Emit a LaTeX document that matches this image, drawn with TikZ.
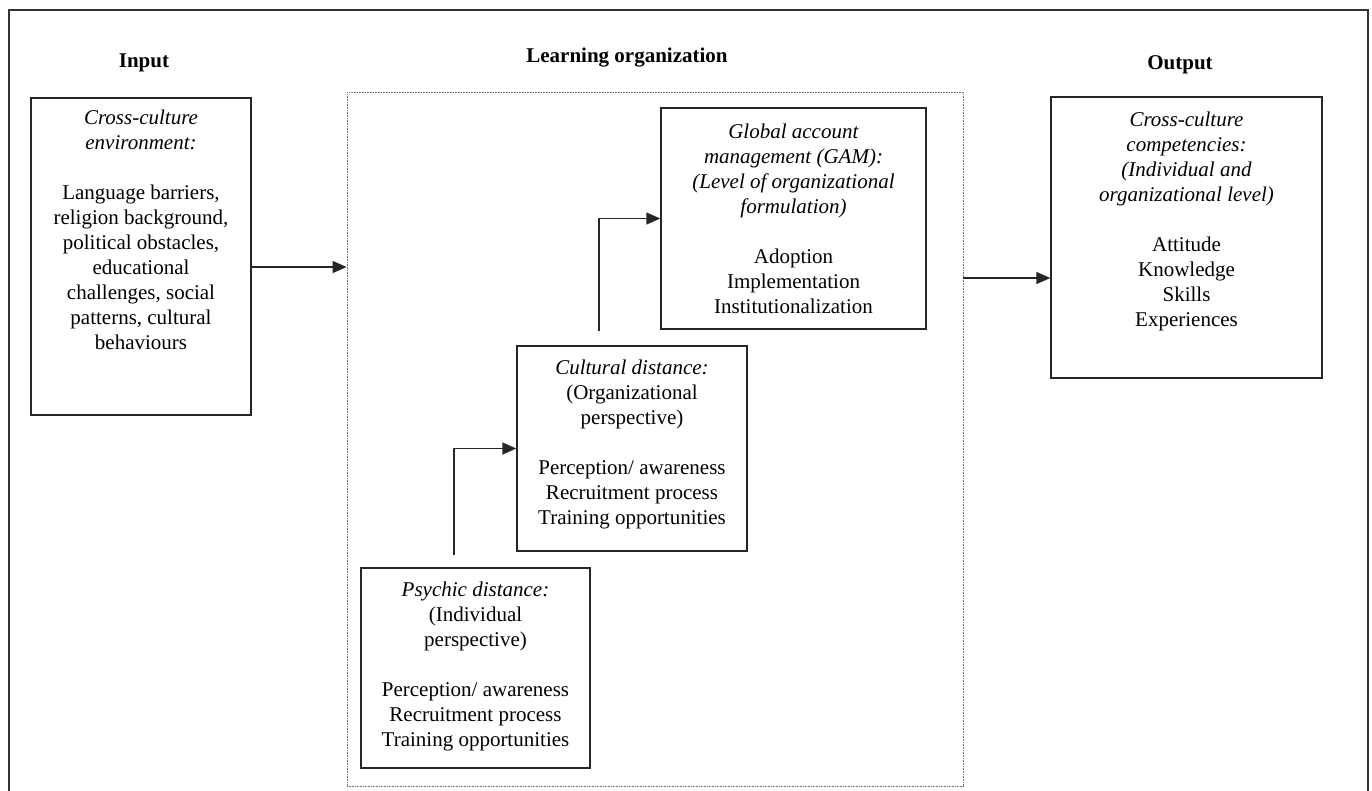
\documentclass[tikz,border=0pt]{standalone}
\usepackage{fontspec}
\setmainfont{Liberation Serif}
\usetikzlibrary{arrows.meta}
\begin{document}
\begin{tikzpicture}[x=1pt,y=-1pt,
  txt/.style={font=\fontsize{21}{25}\selectfont, align=center, inner sep=0pt, anchor=north},
  ttl/.style={font=\fontsize{21}{25}\selectfont\bfseries, inner sep=0pt},
  box/.style={draw=black!85, line width=1.4pt, inner sep=0pt, rectangle},
  dotbox/.style={draw=black!55, line width=0.9pt, dash pattern=on 0.8pt off 0.8pt, inner sep=0pt, rectangle},
  arr/.style={line width=1.4pt, draw=black!85, -{Triangle[length=14pt,width=12pt]}}]
\useasboundingbox (0,0) rectangle (1372,790);
\clip (0,0) rectangle (1372,790);
\fill[white] (0,0) rectangle (1372,790);
\draw[line width=1.4pt, black!80] (9,10) rectangle (1368,820);

% titles
\node[ttl] (tin) at (144,63) {Input};
\node[ttl] (tlo) at (627,58) {Learning organization};
\node[ttl] (tout) at (1180,65) {Output};

% boxes
\node[box, minimum width=220pt, minimum height=317pt] (in) at (141,256.5) {};
\node[dotbox, minimum width=616pt, minimum height=694pt] (lo) at (655,439) {};
\node[box, minimum width=265pt, minimum height=221pt] (gam) at (793.5,218.5) {};
\node[box, minimum width=230pt, minimum height=205pt] (cul) at (632,448.5) {};
\node[box, minimum width=229pt, minimum height=200pt] (psy) at (475.5,668) {};
\node[box, minimum width=271pt, minimum height=281pt] (out) at (1186.5,237.5) {};

% texts
\node[txt] (tin1) at ([yshift=-12pt]in.north) {\textit{Cross-culture}\\ \textit{environment:}\\[25pt]
Language barriers,\\ religion background,\\ political obstacles,\\ educational\\ challenges, social\\ patterns, cultural\\ behaviours};
\node[txt] (tgam) at ([yshift=-16pt]gam.north) {\textit{Global account}\\ \textit{management (GAM):}\\ \textit{(Level of organizational}\\ \textit{formulation)}\\[25pt]
Adoption\\ Implementation\\ Institutionalization};
\node[txt] (tcul) at ([yshift=-14pt]cul.north) {\textit{Cultural distance:}\\ (Organizational\\ perspective)\\[25pt]
Perception/ awareness\\ Recruitment process\\ Training opportunities};
\node[txt] (tpsy) at ([yshift=-14pt]psy.north) {\textit{Psychic distance:}\\ (Individual\\ perspective)\\[25pt]
Perception/ awareness\\ Recruitment process\\ Training opportunities};
\node[txt] (tout1) at ([yshift=-15pt]out.north) {\textit{Cross-culture}\\ \textit{competencies:}\\ \textit{(Individual and}\\ \textit{organizational level)}\\[25pt]
Attitude\\ Knowledge\\ Skills\\ Experiences};

% connectors
\coordinate (i1) at ([yshift=-10.5pt]in.east);
\draw[arr] (i1) -- (i1 -| lo.west);
\coordinate (o1) at ([yshift=-40.5pt]out.west);
\draw[arr] (o1 -| lo.east) -- (o1);
\draw[arr] ([xshift=-21.5pt,yshift=12pt]psy.north) |- (cul.west);
\draw[arr] ([xshift=-33pt,yshift=14pt]cul.north) |- (gam.west);
\end{tikzpicture}
\end{document}
